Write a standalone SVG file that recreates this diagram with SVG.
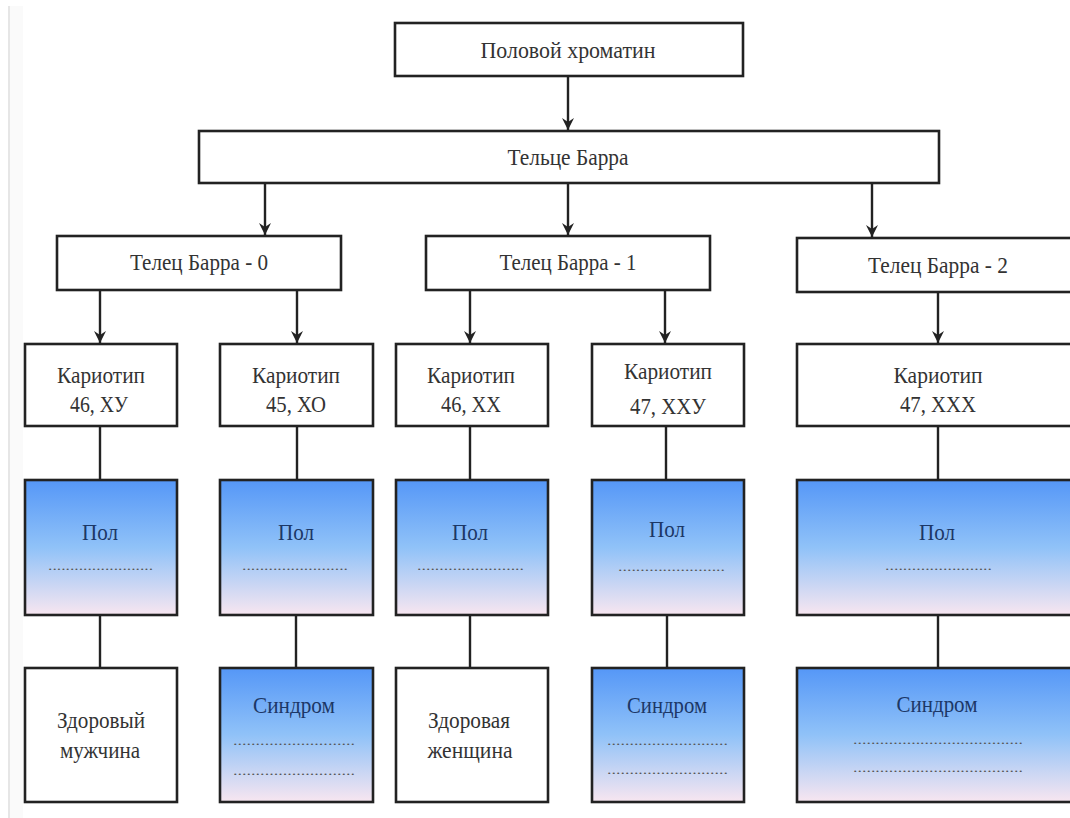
<svg xmlns="http://www.w3.org/2000/svg" width="1070" height="818" viewBox="0 0 1070 818" font-family="'Liberation Serif', 'DejaVu Serif', serif">
<defs>
<linearGradient id="blue" x1="0" y1="0" x2="0" y2="1">
<stop offset="0" stop-color="#5597f7"/>
<stop offset="0.5" stop-color="#90c2f8"/>
<stop offset="1" stop-color="#f8e6f0"/>
</linearGradient>
<marker id="arr" viewBox="0 0 12 12" refX="12" refY="6" markerWidth="12" markerHeight="12" markerUnits="userSpaceOnUse" orient="auto">
<path d="M0,0 L12,6 L0,12 L4,6 z" fill="#222"/>
</marker>
</defs>
<style>
.box{fill:#fff;stroke:#222;stroke-width:2.6}
.grad{fill:url(#blue);stroke:#222;stroke-width:2.6}
.t{font-size:24px;fill:#333;text-anchor:middle}
.b{font-size:24px;fill:#1c3766;text-anchor:middle}
.d{font-size:12px;fill:#555;text-anchor:start}
.c{stroke:#222;stroke-width:2.4;fill:none}
.ca{stroke:#222;stroke-width:2.4;fill:none;marker-end:url(#arr)}
</style>
<rect width="1070" height="818" fill="#fff"/>
<rect x="8" y="6" width="2" height="812" fill="#e6e6e6"/>
<rect x="10" y="6" width="13" height="812" fill="#fafafa"/>

<g id="connectors">
<line class="ca" x1="568" y1="76" x2="568" y2="130"/>
<line class="ca" x1="265" y1="183" x2="265" y2="235"/>
<line class="ca" x1="568" y1="183" x2="568" y2="235"/>
<line class="ca" x1="872" y1="183" x2="872" y2="237"/>
<line class="ca" x1="100" y1="290" x2="100" y2="343"/>
<line class="ca" x1="297" y1="290" x2="297" y2="343"/>
<line class="ca" x1="470" y1="290" x2="470" y2="343"/>
<line class="ca" x1="665" y1="290" x2="665" y2="343"/>
<line class="ca" x1="938" y1="292" x2="938" y2="343"/>
<line class="c" x1="100" y1="426" x2="100" y2="480"/>
<line class="c" x1="297" y1="426" x2="297" y2="480"/>
<line class="c" x1="470" y1="426" x2="470" y2="480"/>
<line class="c" x1="666" y1="426" x2="666" y2="480"/>
<line class="c" x1="938" y1="426" x2="938" y2="480"/>
<line class="c" x1="100" y1="615" x2="100" y2="668"/>
<line class="c" x1="296" y1="615" x2="296" y2="668"/>
<line class="c" x1="470" y1="615" x2="470" y2="668"/>
<line class="c" x1="667" y1="615" x2="667" y2="668"/>
<line class="c" x1="938" y1="615" x2="938" y2="668"/>
</g>

<g id="n-chromatin">
<rect class="box" x="395" y="23" width="348" height="53"/>
<text class="t" x="568" y="58" textLength="175" lengthAdjust="spacingAndGlyphs">Половой  хроматин</text>
</g>
<g id="n-barr">
<rect class="box" x="199" y="131" width="740" height="52"/>
<text class="t" x="568" y="165" textLength="121" lengthAdjust="spacingAndGlyphs">Тельце Барра</text>
</g>
<g id="n-barr0">
<rect class="box" x="57" y="236" width="284" height="54"/>
<text class="t" x="199" y="270" textLength="138" lengthAdjust="spacingAndGlyphs">Телец Барра - 0</text>
</g>
<g id="n-barr1">
<rect class="box" x="426" y="236" width="284" height="54"/>
<text class="t" x="568" y="270" textLength="137" lengthAdjust="spacingAndGlyphs">Телец Барра - 1</text>
</g>
<g id="n-barr2">
<rect class="box" x="797" y="238" width="290" height="54"/>
<text class="t" x="938" y="273" textLength="140" lengthAdjust="spacingAndGlyphs">Телец Барра - 2</text>
</g>

<g id="n-k1">
<rect class="box" x="25" y="344" width="152" height="82"/>
<text class="t" x="101" y="383" textLength="88" lengthAdjust="spacingAndGlyphs">Кариотип</text>
<text class="t" x="99" y="412" textLength="58" lengthAdjust="spacingAndGlyphs">46, ХУ</text>
</g>
<g id="n-k2">
<rect class="box" x="220" y="344" width="153" height="82"/>
<text class="t" x="296" y="383" textLength="88" lengthAdjust="spacingAndGlyphs">Кариотип</text>
<text class="t" x="296" y="412" textLength="60" lengthAdjust="spacingAndGlyphs">45, ХО</text>
</g>
<g id="n-k3">
<rect class="box" x="396" y="344" width="152" height="82"/>
<text class="t" x="471" y="383" textLength="88" lengthAdjust="spacingAndGlyphs">Кариотип</text>
<text class="t" x="471" y="412" textLength="60" lengthAdjust="spacingAndGlyphs">46, ХХ</text>
</g>
<g id="n-k4">
<rect class="box" x="592" y="344" width="152" height="82"/>
<text class="t" x="668" y="379" textLength="88" lengthAdjust="spacingAndGlyphs">Кариотип</text>
<text class="t" x="668" y="414" textLength="76" lengthAdjust="spacingAndGlyphs">47, ХХУ</text>
</g>
<g id="n-k5">
<rect class="box" x="797" y="344" width="290" height="82"/>
<text class="t" x="938" y="383" textLength="89" lengthAdjust="spacingAndGlyphs">Кариотип</text>
<text class="t" x="938" y="412" textLength="76" lengthAdjust="spacingAndGlyphs">47, ХХХ</text>
</g>

<g id="n-p1">
<rect class="grad" x="25" y="480" width="152" height="135"/>
<text class="b" x="100" y="540" textLength="36" lengthAdjust="spacingAndGlyphs">Пол</text>
<text class="d" x="48" y="570" textLength="105" lengthAdjust="spacingAndGlyphs">........................</text>
</g>
<g id="n-p2">
<rect class="grad" x="220" y="480" width="153" height="135"/>
<text class="b" x="296" y="540" textLength="36" lengthAdjust="spacingAndGlyphs">Пол</text>
<text class="d" x="242" y="570" textLength="106" lengthAdjust="spacingAndGlyphs">........................</text>
</g>
<g id="n-p3">
<rect class="grad" x="396" y="480" width="152" height="135"/>
<text class="b" x="470" y="540" textLength="36" lengthAdjust="spacingAndGlyphs">Пол</text>
<text class="d" x="417" y="570" textLength="107" lengthAdjust="spacingAndGlyphs">........................</text>
</g>
<g id="n-p4">
<rect class="grad" x="592" y="480" width="152" height="135"/>
<text class="b" x="667" y="537" textLength="36" lengthAdjust="spacingAndGlyphs">Пол</text>
<text class="d" x="618" y="571" textLength="107" lengthAdjust="spacingAndGlyphs">........................</text>
</g>
<g id="n-p5">
<rect class="grad" x="797" y="480" width="290" height="135"/>
<text class="b" x="937" y="540" textLength="36" lengthAdjust="spacingAndGlyphs">Пол</text>
<text class="d" x="885" y="570" textLength="107" lengthAdjust="spacingAndGlyphs">........................</text>
</g>

<g id="n-s1">
<rect class="box" x="25" y="668" width="152" height="134"/>
<text class="t" x="101" y="728" textLength="88" lengthAdjust="spacingAndGlyphs">Здоровый</text>
<text class="t" x="100" y="758" textLength="80" lengthAdjust="spacingAndGlyphs">мужчина</text>
</g>
<g id="n-s2">
<rect class="grad" x="220" y="668" width="153" height="134"/>
<text class="b" x="294" y="713" textLength="82" lengthAdjust="spacingAndGlyphs">Синдром</text>
<text class="d" x="233" y="745" textLength="122" lengthAdjust="spacingAndGlyphs">...........................</text>
<text class="d" x="233" y="775" textLength="122" lengthAdjust="spacingAndGlyphs">...........................</text>
</g>
<g id="n-s3">
<rect class="box" x="396" y="668" width="152" height="134"/>
<text class="t" x="469" y="728" textLength="82" lengthAdjust="spacingAndGlyphs">Здоровая</text>
<text class="t" x="470" y="758" textLength="85" lengthAdjust="spacingAndGlyphs">женщина</text>
</g>
<g id="n-s4">
<rect class="grad" x="592" y="668" width="152" height="134"/>
<text class="b" x="667" y="713" textLength="80" lengthAdjust="spacingAndGlyphs">Синдром</text>
<text class="d" x="607" y="745" textLength="121" lengthAdjust="spacingAndGlyphs">...........................</text>
<text class="d" x="607" y="774" textLength="121" lengthAdjust="spacingAndGlyphs">...........................</text>
</g>
<g id="n-s5">
<rect class="grad" x="797" y="668" width="290" height="134"/>
<text class="b" x="937" y="712" textLength="81" lengthAdjust="spacingAndGlyphs">Синдром</text>
<text class="d" x="853" y="744" textLength="170" lengthAdjust="spacingAndGlyphs">......................................</text>
<text class="d" x="853" y="772" textLength="170" lengthAdjust="spacingAndGlyphs">......................................</text>
</g>
</svg>
